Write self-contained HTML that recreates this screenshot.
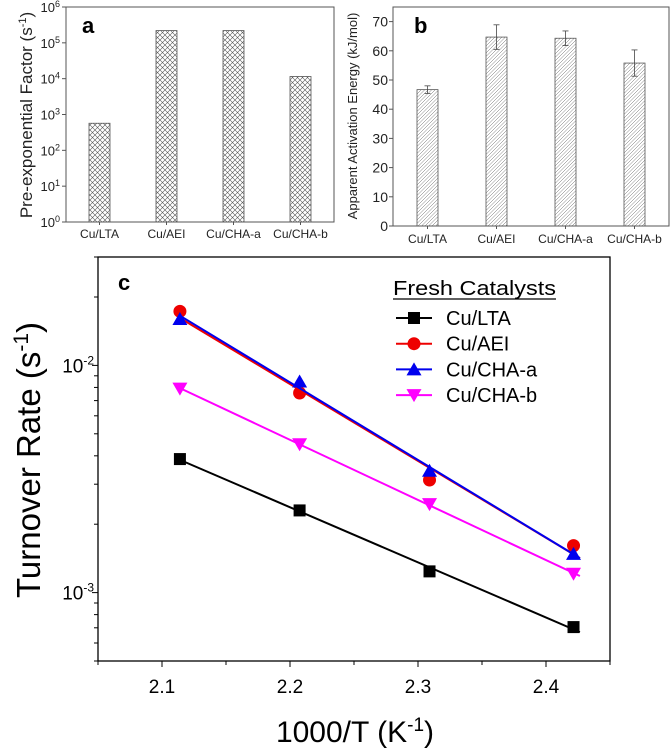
<!DOCTYPE html>
<html><head><meta charset="utf-8"><style>
body{margin:0;background:#fff;}
svg{display:block;font-family:"Liberation Sans",Arial,sans-serif;}
</style></head><body>
<svg id="fig" width="672" height="752" viewBox="0 0 672 752">
<defs>
<pattern id="cross" width="5" height="5" patternUnits="userSpaceOnUse">
<path d="M0,0L5,5M5,0L0,5" stroke="#555" stroke-width="0.6"/></pattern>
<pattern id="diag" width="3.5" height="3.5" patternUnits="userSpaceOnUse">
<path d="M-1,4.5L4.5,-1M0,3.5L3.5,0" stroke="#666" stroke-width="0.5"/></pattern>
</defs>
<g id="pa"></g>
<g id="pb"></g>
<g id="pc"></g>
</svg>
<script>
const catsAB=["Cu/LTA","Cu/AEI","Cu/CHA-a","Cu/CHA-b"];
const preExp=[570,220000,220000,11500];
const eaVals=[46.7,64.7,64.3,55.8];
const eaErr=[1.3,4.2,2.5,4.5];
const xVals=[2.114,2.2075,2.309,2.4215];
const seriesNames=["Cu/LTA","Cu/AEI","Cu/CHA-a","Cu/CHA-b"];
const seriesLTA=[3.87e-3,2.30e-3,1.24e-3,7.05e-4];
const seriesAEI=[1.73e-2,7.56e-3,3.13e-3,1.61e-3];
const seriesCHAa=[1.60e-2,8.5e-3,3.44e-3,1.48e-3];
const seriesCHAb=[7.9e-3,4.5e-3,2.45e-3,1.21e-3];
const xTicks=[2.1,2.2,2.3,2.4];

const NS="http://www.w3.org/2000/svg";
function mk(p,tag,a,txt){const e=document.createElementNS(NS,tag);for(const k in a)e.setAttribute(k,a[k]);if(txt!==undefined)e.textContent=txt;p.appendChild(e);return e;}

// ---- panel a ----
const pa=document.getElementById('pa');
const aL=66,aR=334,aT=7,aB=222;
const ya=v=>aB-(Math.log10(v))/6*(aB-aT);
const xa=i=>aL+(aR-aL)*(i+0.5)/4;
preExp.forEach((v,i)=>{const r=mk(pa,'rect',{x:xa(i)-10.5,y:ya(v),width:21,height:aB-ya(v),fill:'url(#cross)',stroke:'#555','stroke-width':0.8});

});
mk(pa,'rect',{x:aL,y:aT,width:aR-aL,height:aB-aT,fill:'none',stroke:'#555','stroke-width':1});
for(let k=0;k<=6;k++){const y=ya(Math.pow(10,k));mk(pa,'line',{x1:aL-4,x2:aL,y1:y,y2:y,stroke:'#555'});
const t=mk(pa,'text',{x:aL-6,y:y+5,'text-anchor':'end','font-size':13,fill:'#222'},'10');mk(t,'tspan',{dy:-5,'font-size':9},String(k));}
catsAB.forEach((c,i)=>{mk(pa,'line',{x1:xa(i),x2:xa(i),y1:aB,y2:aB+3,stroke:'#555'});mk(pa,'text',{x:xa(i),y:aB+16,'text-anchor':'middle','font-size':12,fill:'#222'},c);});
mk(pa,'text',{x:82,y:33,'font-size':22,'font-weight':'bold'},'a');
{const t=mk(pa,'text',{transform:'translate(32,115) rotate(-90)','text-anchor':'middle','font-size':17,fill:'#222'},'Pre-exponential Factor (s');mk(t,'tspan',{dy:-6,'font-size':11},'-1');mk(t,'tspan',{dy:6},')');}

// ---- panel b ----
const pb=document.getElementById('pb');
const bL=393,bR=669,bT=7,bB=226;
const yb=v=>bB-v/75*(bB-bT);
const xb=i=>bL+(bR-bL)*(i+0.5)/4;
eaVals.forEach((v,i)=>{const r=mk(pb,'rect',{x:xb(i)-10.5,y:yb(v),width:21,height:bB-yb(v),fill:'url(#diag)',stroke:'#555','stroke-width':0.8});


const x=xb(i),y1=yb(v+eaErr[i]),y2=yb(v-eaErr[i]);
mk(pb,'line',{x1:x,x2:x,y1:y1,y2:y2,stroke:'#444','stroke-width':0.8});
mk(pb,'line',{x1:x-3,x2:x+3,y1:y1,y2:y1,stroke:'#444','stroke-width':0.8});
mk(pb,'line',{x1:x-3,x2:x+3,y1:y2,y2:y2,stroke:'#444','stroke-width':0.8});});
mk(pb,'rect',{x:bL,y:bT,width:bR-bL,height:bB-bT,fill:'none',stroke:'#555','stroke-width':1});
for(let k=0;k<=70;k+=10){const y=yb(k);mk(pb,'line',{x1:bL-4,x2:bL,y1:y,y2:y,stroke:'#555'});mk(pb,'text',{x:bL-5,y:y+5,'text-anchor':'end','font-size':14,fill:'#222'},String(k));}
catsAB.forEach((c,i)=>{mk(pb,'line',{x1:xb(i),x2:xb(i),y1:bB,y2:bB+3,stroke:'#555'});mk(pb,'text',{x:xb(i),y:bB+17,'text-anchor':'middle','font-size':12,fill:'#222'},c);});
mk(pb,'text',{x:414,y:33,'font-size':22,'font-weight':'bold'},'b');
mk(pb,'text',{transform:'translate(357,116) rotate(-90)','text-anchor':'middle','font-size':13,fill:'#222'},'Apparent Activation Energy (kJ/mol)');

// ---- panel c ----
const pc=document.getElementById('pc');
const cL=98,cR=610,cT=257,cB=661;
const lmin=Math.log10(5e-4),lmax=Math.log10(3e-2);
const xc=v=>cL+(v-2.05)/0.4*(cR-cL);
const yc=v=>cB-(Math.log10(v)-lmin)/(lmax-lmin)*(cB-cT);
mk(pc,'rect',{x:cL,y:cT,width:cR-cL,height:cB-cT,fill:'none',stroke:'#000','stroke-width':1.3});
xTicks.forEach(t=>{const x=xc(t);mk(pc,'line',{x1:x,x2:x,y1:cB,y2:cB+6,stroke:'#000'});mk(pc,'text',{x:x,y:cB+32,'text-anchor':'middle','font-size':19},t.toFixed(1));});
[2.05,2.15,2.25,2.35,2.45].forEach(t=>mk(pc,'line',{x1:xc(t),x2:xc(t),y1:cB,y2:cB+4,stroke:'#000'}));
for(let d=-4;d<=-2;d++)for(let m=1;m<10;m++){const v=m*Math.pow(10,d);if(v<5e-4||v>3e-2)continue;const y=yc(v);
mk(pc,'line',{x1:cL-(m==1?6:4),x2:cL,y1:y,y2:y,stroke:'#000'});
if(m==1){const t=mk(pc,'text',{x:cL-4,y:y+7,'text-anchor':'end','font-size':19},'10');mk(t,'tspan',{dy:-8,'font-size':12},String(d));}}
const cols=["#000","#e00","#00e","#f0f"];
const allS=[seriesLTA,seriesAEI,seriesCHAa,seriesCHAb];
function marker(p,k,x,y){if(k==0)return mk(p,'rect',{x:x-6,y:y-6,width:12,height:12,fill:cols[k]});
if(k==1)return mk(p,'circle',{cx:x,cy:y,r:6.5,fill:cols[k]});
if(k==2)return mk(p,'path',{d:`M${x},${y-7}L${x+7.5},${y+6}L${x-7.5},${y+6}Z`,fill:cols[k]});
return mk(p,'path',{d:`M${x},${y+7}L${x+7.5},${y-6}L${x-7.5},${y-6}Z`,fill:cols[k]});}
allS.forEach((s,k)=>{
const n=s.length;let sx=0,sy=0,sxx=0,sxy=0;
s.forEach((v,i)=>{const X=xVals[i],Y=Math.log10(v);sx+=X;sy+=Y;sxx+=X*X;sxy+=X*Y;});
const b=(n*sxy-sx*sy)/(n*sxx-sx*sx),a=(sy-b*sx)/n;
const x0=xVals[0],x1=xVals[n-1]+0.005;
const ln=mk(pc,'line',{x1:xc(x0),y1:yc(Math.pow(10,a+b*x0)),x2:xc(x1),y2:yc(Math.pow(10,a+b*x1)),stroke:cols[k],'stroke-width':2});


s.forEach((v,i)=>{const m=marker(pc,k,xc(xVals[i]),yc(v));

});
const ly=318+k*25.7;
mk(pc,'line',{x1:396,x2:432,y1:ly,y2:ly,stroke:cols[k],'stroke-width':2});
marker(pc,k,414,ly);
const lt=mk(pc,'text',{x:446,y:ly+7,'font-size':20},seriesNames[k]);


});
mk(pc,'text',{x:393,y:295,'font-size':20,'textLength':163,'lengthAdjust':'spacingAndGlyphs'},'Fresh Catalysts');
mk(pc,'line',{x1:393,x2:556,y1:299,y2:299,stroke:'#000','stroke-width':1.2});
mk(pc,'text',{x:118,y:290,'font-size':22,'font-weight':'bold'},'c');
{const t=mk(pc,'text',{x:355,y:742,'text-anchor':'middle','font-size':30},'1000/T (K');mk(t,'tspan',{dy:-11,'font-size':19},'-1');mk(t,'tspan',{dy:11},')');}
{const t=mk(pc,'text',{transform:'translate(40,460) rotate(-90)','text-anchor':'middle','font-size':33},'Turnover Rate (s');mk(t,'tspan',{dy:-12,'font-size':21},'-1');mk(t,'tspan',{dy:12},')');}
</script>
</body></html>
